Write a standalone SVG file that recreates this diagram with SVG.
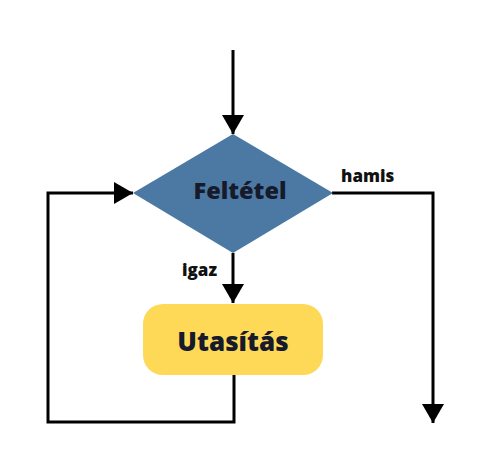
<svg xmlns="http://www.w3.org/2000/svg" width="500" height="470" viewBox="0 0 500 470">
<defs>
<style>
.ln{fill:none;stroke:#000;stroke-width:3;stroke-linejoin:miter}
.lbl{font-family:"Open Sans",sans-serif;font-weight:800;fill:#111}
.nt{font-family:"Open Sans",sans-serif;font-weight:800;fill:#161a2b}
</style>
<marker id="ah" markerUnits="userSpaceOnUse" markerWidth="24" markerHeight="22" refX="19" refY="11" orient="auto">
<path d="M0,0 L19,11 L0,22 Z" fill="#000"/>
</marker>
</defs>
<rect width="500" height="470" fill="#fff"/>
<g id="connectors">
<path class="ln" d="M233,50 V134" marker-end="url(#ah)"/>
<path class="ln" d="M332,193 H433 V423" marker-end="url(#ah)"/>
<path class="ln" d="M233,253 V303" marker-end="url(#ah)"/>
<path class="ln" d="M234,375 V422 H48 V193 H133" marker-end="url(#ah)"/>
<text class="lbl" x="341" y="182" font-size="17">hamis</text>
<text class="lbl" x="182" y="276" font-size="17">igaz</text>
</g>
<g id="feltetel">
<polygon points="233,134 333,193 233,253 133,193" fill="#4b79a3"/>
<text class="nt" x="240" y="199" font-size="23.5" text-anchor="middle">Feltétel</text>
</g>
<g id="utasitas">
<rect x="143" y="304" width="180" height="71" rx="20" fill="#fdd957"/>
<text class="nt" x="233" y="351" font-size="26" text-anchor="middle">Utasítás</text>
</g>
</svg>
